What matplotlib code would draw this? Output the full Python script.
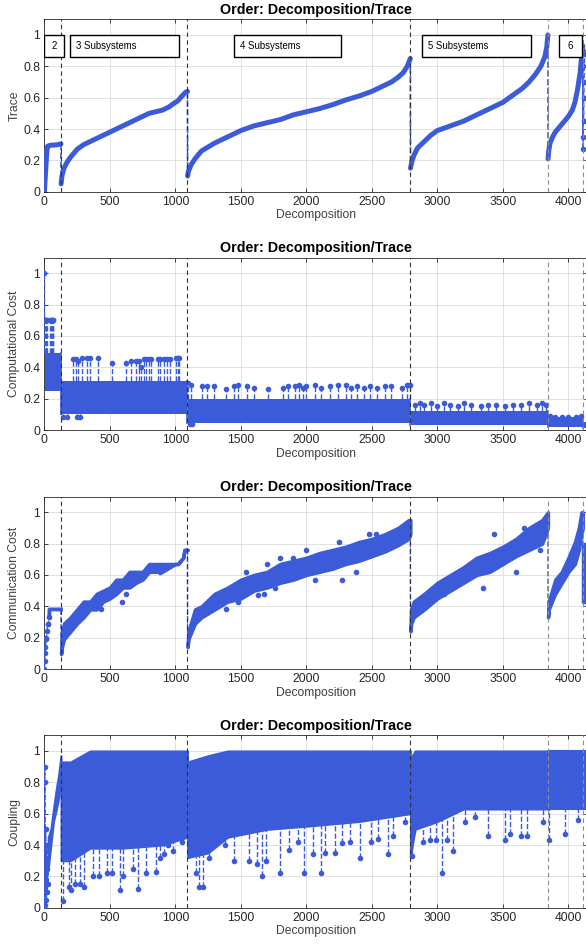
import numpy as np
import matplotlib.pyplot as plt
from matplotlib.patches import Rectangle

plt.rcParams['font.family'] = ['Liberation Sans', 'DejaVu Sans']

BLUE = '#3c5bd8'
XMAX = 4150

# cumulative number of decompositions with 2..8 subsystems
bounds = [127, 1093, 2794, 3844, 4110, 4138]

# ---- trace (sorted within each block) ----
tr_x = [
    [1, 5, 10, 15, 20, 25, 40, 60, 80, 100, 127],
    [128, 135, 150, 175, 200, 250, 300, 400, 500, 600, 700, 800, 900, 950, 1000, 1020, 1050, 1080, 1093],
    [1094, 1100, 1120, 1150, 1200, 1300, 1400, 1500, 1600, 1700, 1800, 1900, 2000, 2100, 2200, 2300,
     2400, 2500, 2600, 2650, 2700, 2740, 2770, 2794],
    [2795, 2805, 2820, 2850, 2900, 2950, 3000, 3100, 3200, 3300, 3400, 3500, 3600, 3650, 3700, 3750,
     3790, 3820, 3835, 3844],
    [3845, 3850, 3860, 3880, 3900, 3930, 3960, 4000, 4030, 4050, 4070, 4090, 4100, 4110],
    [4111, 4112, 4113, 4114, 4116, 4118, 4120, 4124],
]
tr_y = [
    [0.0, 0.06, 0.13, 0.2, 0.26, 0.29, 0.295, 0.297, 0.298, 0.30, 0.305],
    [0.05, 0.10, 0.15, 0.19, 0.22, 0.27, 0.30, 0.34, 0.38, 0.42, 0.46, 0.50, 0.52, 0.54, 0.57, 0.58,
     0.61, 0.635, 0.64],
    [0.10, 0.13, 0.17, 0.21, 0.26, 0.31, 0.35, 0.39, 0.42, 0.44, 0.46, 0.49, 0.51, 0.53, 0.555, 0.585,
     0.61, 0.64, 0.68, 0.70, 0.73, 0.76, 0.80, 0.85],
    [0.15, 0.19, 0.23, 0.28, 0.32, 0.36, 0.39, 0.42, 0.45, 0.49, 0.53, 0.57, 0.63, 0.66, 0.70, 0.75,
     0.80, 0.86, 0.92, 1.0],
    [0.21, 0.26, 0.31, 0.35, 0.38, 0.41, 0.44, 0.48, 0.52, 0.57, 0.65, 0.76, 0.85, 0.93],
    [0.27, 0.9, 0.35, 0.8, 0.45, 0.6, 0.7, 0.88],
]

box_x0 = [0, 199, 1450, 2885, 3926]
box_x1 = [147, 1031, 2266, 3712, 4106]
box_txt = ['2', '3 Subsystems', '4 Subsystems', '5 Subsystems', '6']

# ---- computational cost: dense band per block + isolated peaks ----
cc_lo = [0.25, 0.10, 0.045, 0.03, 0.02, 0.01]
cc_hi = [0.49, 0.31, 0.20, 0.12, 0.08, 0.05]
cc_peak_x = [1, 5, 10, 15, 20, 40, 48, 56, 64, 70,
             218, 241, 261, 284, 324, 346, 412, 518, 626, 660, 697, 723, 737, 760, 775, 797, 811,
             866, 880, 917, 937, 960, 1003, 1020, 1031,
             1100, 1122, 1202, 1239, 1296, 1385, 1445, 1476, 1545, 1601, 1710, 1824, 1858, 1915, 1944,
             1972, 1995, 2066, 2115, 2184, 2244, 2300, 2343, 2386, 2443, 2486, 2543, 2600, 2649, 2728,
             2771, 2790,
             2830, 2870, 2900, 2950, 3000, 3050, 3100, 3160, 3200, 3260, 3330, 3390, 3450, 3520, 3580,
             3640, 3700, 3760, 3800, 3830,
             3860, 3900, 3950, 4000, 4060, 4100]
cc_peak_y = [1.0, 0.70, 0.70, 0.70, 0.70, 0.70, 0.70, 0.70, 0.70, 0.70,
             0.45, 0.45, 0.44, 0.46, 0.46, 0.46, 0.46, 0.43, 0.43, 0.44, 0.44, 0.44, 0.40, 0.45, 0.45,
             0.45, 0.45, 0.45, 0.45, 0.45, 0.45, 0.45, 0.46, 0.46, 0.46,
             0.30, 0.29, 0.28, 0.28, 0.28, 0.26, 0.28, 0.29, 0.28, 0.27, 0.26, 0.27, 0.28, 0.28, 0.29,
             0.27, 0.28, 0.29, 0.27, 0.28, 0.29, 0.29, 0.27, 0.28, 0.27, 0.28, 0.27, 0.28, 0.28, 0.27,
             0.29, 0.29,
             0.16, 0.17, 0.16, 0.17, 0.15, 0.17, 0.16, 0.15, 0.17, 0.16, 0.15, 0.16, 0.16, 0.15, 0.16,
             0.16, 0.17, 0.16, 0.17, 0.16,
             0.09, 0.085, 0.08, 0.08, 0.085, 0.09]
cc_low_x = [140, 170, 250, 270, 1110, 1130]
cc_low_y = [0.08, 0.08, 0.08, 0.08, 0.04, 0.04]

# ---- communication cost: band of levels growing along each block ----
cm_seg1_x = [1, 3, 6, 9, 12, 16, 20, 25, 30, 38, 40, 127]
cm_seg1_y = [0.0, 0.05, 0.10, 0.14, 0.19, 0.20, 0.24, 0.29, 0.29, 0.33, 0.38, 0.38]
cm_x = [
    [128, 135, 150, 200, 250, 300, 350, 400, 450, 500, 550, 600, 650, 700, 750, 800, 900, 1000, 1020, 1060, 1070, 1093],
    [1094, 1100, 1150, 1200, 1300, 1400, 1500, 1600, 1700, 1800, 1900, 2000, 2100, 2200, 2300, 2400,
     2500, 2600, 2700, 2780, 2794],
    [2795, 2800, 2820, 2900, 3000, 3100, 3200, 3300, 3400, 3500, 3600, 3700, 3800, 3844],
    [3845, 3850, 3900, 3950, 4000, 4050, 4080, 4100, 4110],
    [4111, 4138],
]
cm_lo = [
    [0.095, 0.14, 0.19, 0.24, 0.29, 0.33, 0.38, 0.38, 0.43, 0.45, 0.48, 0.52, 0.52, 0.55, 0.57, 0.62,
     0.62, 0.67, 0.67, 0.71, 0.76, 0.76],
    [0.14, 0.19, 0.29, 0.33, 0.38, 0.43, 0.45, 0.50, 0.52, 0.55, 0.57, 0.60, 0.62, 0.64, 0.67, 0.69,
     0.72, 0.75, 0.79, 0.83, 0.86],
    [0.24, 0.29, 0.33, 0.38, 0.45, 0.50, 0.55, 0.60, 0.62, 0.67, 0.72, 0.76, 0.80, 0.90],
    [0.33, 0.38, 0.48, 0.55, 0.62, 0.67, 0.76, 0.86, 0.90],
    [0.43, 0.43],
]
cm_hi = [
    [0.095, 0.24, 0.29, 0.33, 0.38, 0.43, 0.43, 0.48, 0.50, 0.52, 0.57, 0.57, 0.62, 0.62, 0.62, 0.67,
     0.67, 0.67, 0.67, 0.71, 0.76, 0.76],
    [0.14, 0.24, 0.38, 0.40, 0.48, 0.52, 0.57, 0.60, 0.62, 0.67, 0.69, 0.71, 0.74, 0.76, 0.78, 0.81,
     0.83, 0.86, 0.90, 0.95, 0.95],
    [0.24, 0.38, 0.43, 0.48, 0.55, 0.60, 0.65, 0.71, 0.74, 0.78, 0.83, 0.90, 0.95, 1.0],
    [0.33, 0.43, 0.57, 0.62, 0.71, 0.81, 0.90, 1.0, 1.0],
    [0.80, 0.80],
]
cm_out_x = [432, 590, 620, 712, 880, 1390, 1480, 1540, 1630, 1680, 1700, 1760, 1800, 1900, 2000,
            2070, 2250, 2270, 2380, 2480, 2530, 3050, 3350, 3430, 3600, 3660, 3780]
cm_out_y = [0.38, 0.43, 0.48, 0.57, 0.62, 0.38, 0.43, 0.62, 0.47, 0.48, 0.67, 0.52, 0.71, 0.71, 0.76,
            0.57, 0.81, 0.57, 0.62, 0.86, 0.86, 0.48, 0.52, 0.86, 0.62, 0.90, 0.76]

# ---- coupling ----
cp_seg1_x = [1, 3, 5, 8, 10, 13, 16, 18, 21, 24, 27, 30]
cp_seg1_y = [0.0, 0.9, 0.8, 0.02, 0.5, 0.3, 0.05, 0.4, 0.1, 0.25, 0.15, 0.4]
cp_x = [
    [30, 50, 70, 90, 110, 127],
    [128, 200, 350, 600, 900, 1093],
    [1094, 1250, 1400, 1700, 2000, 2400, 2794],
    [2795, 2830, 3000, 3200, 3844],
    [3845, 4110],
    [4111, 4150],
]
cp_lo = [
    [0.25, 0.40, 0.55, 0.62, 0.70, 0.80],
    [0.30, 0.30, 0.38, 0.38, 0.40, 0.45],
    [0.32, 0.35, 0.45, 0.50, 0.52, 0.55, 0.60],
    [0.33, 0.50, 0.55, 0.63, 0.63],
    [0.63, 0.63],
    [0.63, 0.63],
]
cp_hi = [
    [0.45, 0.50, 0.63, 0.75, 0.85, 0.97],
    [0.93, 0.93, 1.0, 1.0, 1.0, 1.0],
    [0.93, 0.97, 1.0, 1.0, 1.0, 1.0, 1.0],
    [0.95, 1.0, 1.0, 1.0, 1.0],
    [1.0, 1.0],
    [1.0, 1.0],
]
cp_dip_x = [145, 187, 204, 234, 270, 304, 375, 418, 477, 518, 575, 603, 675, 717, 774, 854, 884, 917,
            948, 980, 1024, 1054,
            1160, 1180, 1210, 1260, 1380, 1450, 1560, 1620, 1660, 1690, 1800, 1870, 1940, 1982, 2048,
            2110, 2143, 2219, 2270, 2330, 2410, 2491, 2544, 2620, 2663, 2752,
            2810, 2891, 2942, 2993, 3039, 3070, 3116, 3211, 3287, 3384, 3516, 3554, 3636, 3682, 3804,
            3855, 3975, 4077]
cp_dip_y = [0.04, 0.13, 0.11, 0.15, 0.15, 0.13, 0.20, 0.20, 0.22, 0.22, 0.11, 0.20, 0.25, 0.12, 0.22,
            0.23, 0.32, 0.34, 0.40, 0.36, 0.50, 0.42,
            0.22, 0.13, 0.13, 0.32, 0.40, 0.30, 0.30, 0.28, 0.20, 0.30, 0.22, 0.37, 0.42, 0.22, 0.34,
            0.22, 0.35, 0.35, 0.41, 0.42, 0.32, 0.42, 0.44, 0.34, 0.46, 0.55,
            0.33, 0.42, 0.43, 0.43, 0.22, 0.43, 0.36, 0.55, 0.58, 0.46, 0.43, 0.47, 0.46, 0.46, 0.55,
            0.43, 0.47, 0.56]


def style_axes(ax, ylabel):
    ax.set_xlim(0, XMAX)
    ax.set_ylim(0, 1.1)
    ax.set_xticks(np.arange(0, 4001, 500))
    ax.set_yticks([0, 0.2, 0.4, 0.6, 0.8, 1.0])
    ax.set_yticklabels(['0', '0.2', '0.4', '0.6', '0.8', '1'])
    ax.grid(True, color='#dcdcdc', lw=0.6)
    ax.set_axisbelow(True)
    ax.tick_params(direction='in', length=3, width=0.6, top=True, right=True,
                   labelsize=8.7, colors='#262626', pad=3)
    for s in ax.spines.values():
        s.set_color('#262626')
        s.set_linewidth(0.6)
    ax.set_title('Order: Decomposition/Trace', fontsize=10.3, fontweight='bold', pad=4)
    ax.set_xlabel('Decomposition', fontsize=8.7, color='#404040', labelpad=1)
    ax.set_ylabel(ylabel, fontsize=8.7, color='#404040', labelpad=2)
    for i, b in enumerate(bounds[:5]):
        c = '#333333' if i < 3 else '#8c8c8c'
        ax.axvline(b, color=c, lw=0.8, ls=(0, (4, 3)), zorder=5)


def seg_of(x):
    return int(np.searchsorted(bounds, x, side='left'))


fig = plt.figure(figsize=(5.86, 9.47), dpi=100)
W = 586.0
H = 947.0
left = 44.3 / W
width = 543.7 / W
bottoms = [191.7, 430.0, 669.0, 907.7]
axes = [fig.add_axes([left, 1 - b / H, width, 172.4 / H]) for b in bottoms]

# panel 1: trace
ax = axes[0]
for i in range(len(tr_x)):
    if i < 5:
        ax.plot(tr_x[i], tr_y[i], '-', color=BLUE, lw=3.6, solid_capstyle='round', zorder=3)
    else:
        ax.plot(tr_x[i], tr_y[i], 'o--', color=BLUE, lw=1, ms=3, zorder=3)
    if i + 1 < len(tr_x):
        ax.plot([tr_x[i][-1], tr_x[i + 1][0]], [tr_y[i][-1], tr_y[i + 1][0]], '--',
                color=BLUE, lw=1.2, zorder=3)
style_axes(ax, 'Trace')
for x0, x1, t in zip(box_x0, box_x1, box_txt):
    ax.add_patch(Rectangle((x0, 0.86), x1 - x0, 0.14, fill=True, fc='white', ec='black',
                           lw=1.0, zorder=6))
    if len(t) == 1:
        ax.text((x0 + x1) / 2, 0.93, t, ha='center', va='center', fontsize=6.9, zorder=7)
    else:
        ax.text(x0 + 40, 0.93, t, ha='left', va='center', fontsize=6.9, zorder=7)

# panel 2: computational cost
ax = axes[1]
starts = [1] + [b + 1 for b in bounds[:-1]]
for i in range(len(bounds)):
    ax.fill_between([starts[i] + 1, bounds[i]], cc_lo[i], cc_hi[i], color=BLUE, lw=0, zorder=3)
for px, py in zip(cc_peak_x, cc_peak_y):
    base = cc_hi[seg_of(px)]
    ax.plot([px, px], [base, py], '--', color=BLUE, lw=1, zorder=3)
ax.plot(cc_peak_x, cc_peak_y, 'o', color=BLUE, ms=3, zorder=3)
for lx, ly in zip(cc_low_x, cc_low_y):
    ax.plot([lx, lx], [ly, cc_lo[seg_of(lx)]], '--', color=BLUE, lw=1, zorder=3)
ax.plot(cc_low_x, cc_low_y, 'o', color=BLUE, ms=3, zorder=3)
for i in range(len(bounds) - 1):
    ax.plot([bounds[i], bounds[i]], [cc_lo[i + 1], cc_hi[i]], '-', color=BLUE, lw=1.2, zorder=3)
style_axes(ax, 'Computational Cost')

# panel 3: communication cost
ax = axes[2]
ax.plot(cm_seg1_x[:-2], cm_seg1_y[:-2], 'o--', color=BLUE, lw=1, ms=3, zorder=3)
ax.plot(cm_seg1_x[-3:], cm_seg1_y[-3:], '-', color=BLUE, lw=2.8, zorder=3)
ax.plot([127, 128], [0.38, cm_lo[0][0]], '--', color=BLUE, lw=1, zorder=3)
for i in range(len(cm_x)):
    ax.fill_between(cm_x[i], cm_lo[i], cm_hi[i], color=BLUE, lw=2.5, edgecolor=BLUE, zorder=3)
    if i + 1 < len(cm_x):
        ax.plot([cm_x[i][-1], cm_x[i + 1][0]], [cm_hi[i][-1], cm_lo[i + 1][0]], '--',
                color=BLUE, lw=1, zorder=3)
ax.plot(cm_out_x, cm_out_y, 'o', color=BLUE, ms=3, zorder=3)
style_axes(ax, 'Communication Cost')

# panel 4: coupling
ax = axes[3]
ax.plot(cp_seg1_x, cp_seg1_y, 'o--', color=BLUE, lw=1, ms=3, zorder=3)
for i in range(len(cp_x)):
    ax.fill_between(cp_x[i], cp_lo[i], cp_hi[i], color=BLUE, lw=1.5, edgecolor=BLUE, zorder=3)
for dx, dy in zip(cp_dip_x, cp_dip_y):
    ax.plot([dx, dx], [dy, 0.7], '--', color=BLUE, lw=1, zorder=3)
ax.plot(cp_dip_x, cp_dip_y, 'o', color=BLUE, ms=3, zorder=3)
style_axes(ax, 'Coupling')

fig.savefig('out.png', dpi=100)
